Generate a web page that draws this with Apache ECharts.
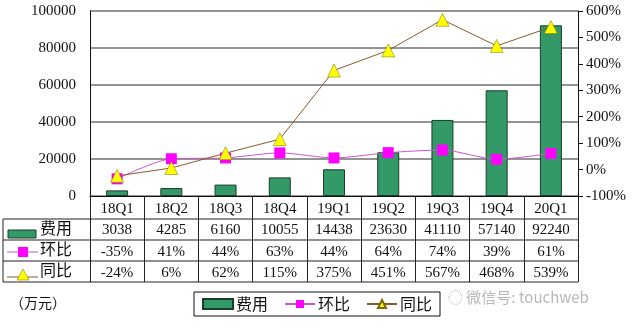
<!DOCTYPE html>
<html><head><meta charset="utf-8">
<script src="https://cdn.jsdelivr.net/npm/echarts@6/dist/echarts.min.js"></script>
<style>html,body{margin:0;padding:0;background:#fff}#c{width:640px;height:336px}</style>
</head><body><div id="c"></div>
<script>
const categories = ['18Q1','18Q2','18Q3','18Q4','19Q1','19Q2','19Q3','19Q4','20Q1'];
const cost = [3038,4285,6160,10055,14438,23630,41110,57140,92240];
const qoq = [-35,41,44,63,44,64,74,39,61];
const yoy = [-24,6,62,115,375,451,567,468,539];
const leftTicks = [0,100000,20000];
const rightTicks = [-100,600,100];

const FONT = "'Liberation Serif','Noto Sans CJK SC',serif";
const CJK = "'Noto Sans CJK SC',sans-serif";
const chart = echarts.init(document.getElementById('c'));
const G = {left:90, right:62, top:11, bottom:140};
const rowY = [219,240,261,282];
const tableLeft = 3, tableRight = 578;

const graphic = [];
rowY.forEach(y => graphic.push({type:'line', shape:{x1:tableLeft,y1:y,x2:tableRight,y2:y}, style:{stroke:'#222',lineWidth:1}}));
graphic.push({type:'line', shape:{x1:tableLeft,y1:219,x2:tableLeft,y2:282}, style:{stroke:'#222',lineWidth:1}});
// row header icons
graphic.push({type:'rect', shape:{x:8,y:230,width:28,height:8}, style:{fill:'#339966',stroke:'#1b3d2a',lineWidth:1}});
graphic.push({type:'text', left:40, top:220, style:{text:'费用', font:'16px '+CJK, fill:'#111'}});
graphic.push({type:'line', shape:{x1:7,y1:252,x2:38,y2:252}, style:{stroke:'#cc55cc',lineWidth:1}});
graphic.push({type:'rect', shape:{x:18,y:247,width:10,height:10}, style:{fill:'#ff00ff'}});
graphic.push({type:'text', left:40, top:241, style:{text:'环比', font:'16px '+CJK, fill:'#111'}});
graphic.push({type:'line', shape:{x1:7,y1:277,x2:38,y2:277}, style:{stroke:'#8a5a2a',lineWidth:1}});
graphic.push({type:'polygon', shape:{points:[[23,269],[17,280],[29,280]]}, style:{fill:'#ffff00',stroke:'#7a6a00',lineWidth:0.5}});
graphic.push({type:'text', left:40, top:262, style:{text:'同比', font:'16px '+CJK, fill:'#111'}});
graphic.push({type:'text', left:10, top:296, style:{text:'（万元）', font:'14px '+CJK, fill:'#111'}});
graphic.push({type:'text', left:448, top:290, style:{text:'\u25CC 微信号: touchweb', font:'15px '+CJK, fill:'#b8b8b8'}});

chart.setOption({
  animation:false,
  textStyle:{fontFamily:FONT},
  grid:G,
  legend:{
    left:194, top:292, width:242, height:20,
    padding:[4,8,4,8],
    borderColor:'#111', borderWidth:1,
    itemGap:16, itemWidth:30, itemHeight:10,
    textStyle:{fontFamily:CJK, fontSize:16, color:'#111', padding:[0,0,0,-2]},
    data:[{name:'费用', icon:'rect'}, {name:'环比'}, {name:'同比'}]
  },
  xAxis:{
    type:'category', data:categories, boundaryGap:true,
    axisLine:{lineStyle:{color:'#111', width:1}},
    axisTick:{show:true, interval:0, length:86, lineStyle:{color:'#222'}},
    axisLabel:{
      interval:0, margin:2, fontFamily:FONT, fontSize:15, color:'#111', lineHeight:21.5,
      formatter:(v,i)=>`${v}\n${cost[i]}\n${qoq[i]}%\n${yoy[i]}%`
    }
  },
  yAxis:[
    {type:'value', min:leftTicks[0], max:leftTicks[1], interval:leftTicks[2],
     axisLine:{show:true, lineStyle:{color:'#111'}}, axisTick:{show:false},
     axisLabel:{margin:14, fontSize:15, color:'#111', fontFamily:FONT, formatter:v=>String(v)},
     splitLine:{lineStyle:{color:'#707070', width:1.5}}},
    {type:'value', min:rightTicks[0], max:rightTicks[1], interval:rightTicks[2], position:'right',
     axisLine:{show:true, lineStyle:{color:'#111'}}, axisTick:{show:true, length:5, lineStyle:{color:'#111'}},
     axisLabel:{margin:8, fontSize:15, color:'#111', fontFamily:FONT, formatter:'{value}%'},
     splitLine:{show:false}}
  ],
  series:[
    {name:'费用', type:'bar', data:cost, barWidth:22, yAxisIndex:0,
     itemStyle:{color:'#339966', borderColor:'#1b3d2a', borderWidth:1}},
    {name:'环比', type:'line', data:qoq, yAxisIndex:1, smooth:0.25,
     symbol:'rect', symbolSize:11, lineStyle:{color:'#cc55cc', width:1},
     itemStyle:{color:'#ff00ff', borderWidth:0}},
    {name:'同比', type:'line', data:yoy, yAxisIndex:1,
     symbol:'triangle', symbolSize:13, lineStyle:{color:'#8a5a2a', width:1},
     itemStyle:{color:'#ffff00', borderColor:'#7a6a00', borderWidth:0.5}}
  ],
  graphic:graphic
});
</script></body></html>
